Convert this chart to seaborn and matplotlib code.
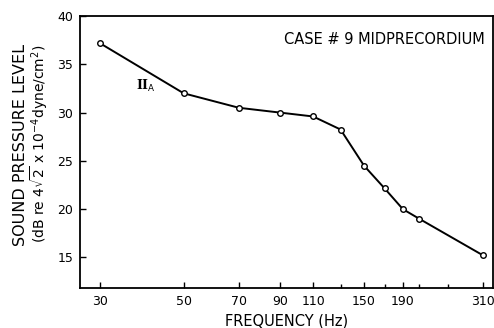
import matplotlib
matplotlib.use("Agg")
import matplotlib.pyplot as plt
import seaborn as sns
import pandas as pd
from matplotlib.ticker import FixedLocator, FixedFormatter, NullFormatter

freq = [30, 50, 70, 90, 110, 130, 150, 170, 190, 210, 310]
spl = [37.2, 32.0, 30.5, 30.0, 29.6, 28.25, 24.5, 22.15, 20.0, 19.0, 15.2]
xtick_major = [30, 50, 70, 90, 110, 150, 190, 310]
xtick_labels = ["30", "50", "70", "90", "110", "150", "190", "310"]
xtick_minor = [130, 170, 210, 250]
yticks = [15, 20, 25, 30, 35, 40]

sns.set_style("ticks")
plt.rcParams['font.family'] = ['DejaVu Sans']
plt.rcParams['text.color'] = 'black'
plt.rcParams['axes.labelcolor'] = 'black'

df = pd.DataFrame({"freq": freq, "spl": spl})

fig = plt.figure(figsize=(4.94, 3.28), dpi=100)
ax = fig.add_axes([0.162, 0.121, 0.835, 0.830])

sns.lineplot(data=df, x="freq", y="spl", ax=ax, color="black", linewidth=1.4,
             marker="o", markersize=4, markerfacecolor="white",
             markeredgecolor="black", markeredgewidth=1.0)

ax.set_xscale("log")
ax.set_xlim(26.6, 328)
ax.set_ylim(11.8, 40)
ax.xaxis.set_major_locator(FixedLocator(xtick_major))
ax.xaxis.set_major_formatter(FixedFormatter(xtick_labels))
ax.xaxis.set_minor_locator(FixedLocator(xtick_minor))
ax.xaxis.set_minor_formatter(NullFormatter())
ax.set_yticks(yticks)
ax.set_yticklabels([str(v) for v in yticks])

ax.tick_params(axis="both", which="major", direction="in", length=4, width=1,
               labelsize=9, colors="black", pad=5)
ax.tick_params(axis="x", which="minor", direction="in", length=3, width=1,
               colors="black")

for s in ax.spines.values():
    s.set_visible(True)
    s.set_linewidth(1.3)
    s.set_color("black")

ax.set_xlabel("FREQUENCY (Hz)", fontsize=10.5, labelpad=4, color="black")
ax.set_ylabel("")
ax.text(-0.145, 0.526, "SOUND PRESSURE LEVEL", transform=ax.transAxes,
        rotation=90, ha="center", va="center", fontsize=11.5, color="black")
ax.text(-0.099, 0.53, "(dB re 4$\\sqrt{2}$ x 10$^{-4}$dyne/cm$^{2}$)",
        transform=ax.transAxes, rotation=90, ha="center", va="center",
        fontsize=10, color="black")

ax.text(0.98, 0.915, "CASE # 9 MIDPRECORDIUM", transform=ax.transAxes,
        ha="right", va="center", fontsize=10.5, color="black")
ax.text(37.5, 32.8, "II$_\\mathrm{A}$", ha="left", va="center", fontsize=9,
        fontfamily="DejaVu Serif", fontweight="bold", color="black")

fig.savefig("out.png", dpi=100)
